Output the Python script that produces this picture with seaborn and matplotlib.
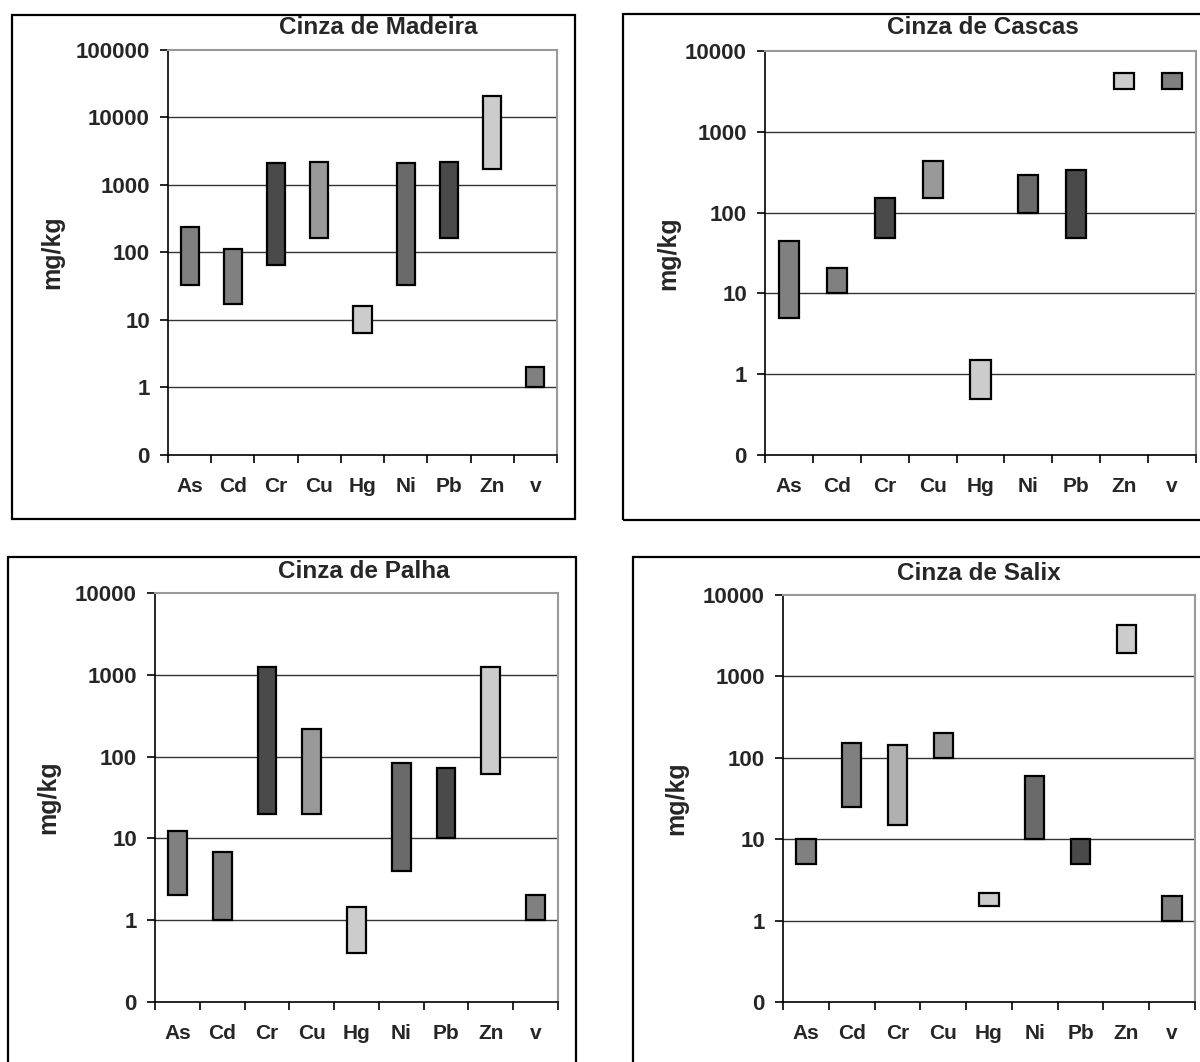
import seaborn as sns
import matplotlib.pyplot as plt
import numpy as np
from matplotlib.patches import Rectangle
from matplotlib.ticker import NullLocator

## ____ dados (mg/kg, min e max por elemento)
elements = ["As", "Cd", "Cr", "Cu", "Hg", "Ni", "Pb", "Zn", "v"]

madeira_lo = [33, 17, 65, 165, 6.4, 33, 165, 1750, 1]
madeira_hi = [235, 112, 2100, 2200, 16, 2100, 2200, 20500, 2]

cascas_lo = [4.9, 10, 49, 150, 0.49, 100, 49, 3350, 3350]
cascas_hi = [44, 20.5, 150, 437, 1.5, 290, 335, 5400, 5400]

palha_lo = [2.05, 1, 20, 20, 0.4, 4, 10, 62, 1]
palha_hi = [12.3, 6.9, 1240, 218, 1.43, 84, 72, 1240, 2.05]

salix_lo = [5, 25, 15, 100, 1.5, 10, 5, 1950, 1]
salix_hi = [10, 150, 142, 202, 2.2, 60, 10, 4300, 2]

cores = ["#808080", "#808080", "#4a4a4a", "#999999", "#cccccc",
         "#6a6a6a", "#4a4a4a", "#cccccc", "#808080"]
cores_salix = ["#808080", "#808080", "#b0b0b0", "#999999", "#cccccc",
               "#6a6a6a", "#4a4a4a", "#cccccc", "#808080"]

sns.set_theme(style="white")
plt.rcParams['font.family'] = ['Liberation Sans', 'DejaVu Sans']
plt.rcParams['font.weight'] = 'bold'

W, H = 1200, 1062
fig = plt.figure(figsize=(W / 100, H / 100), dpi=100)

# (titulo, lo, hi, cores, ymax, [left, right, top, bottom] px, titulo xy px, ylabel x px, moldura px)
paineis = [
    ("Cinza de Madeira", madeira_lo, madeira_hi, cores, 1e5,
     (168, 557, 50, 455), (378, 28), 52, (12, 15, 575, 519)),
    ("Cinza de Cascas", cascas_lo, cascas_hi, cores, 1e4,
     (765, 1196, 51, 455), (983, 28), 668, (623, 14, 1215, 520)),
    ("Cinza de Palha", palha_lo, palha_hi, cores, 1e4,
     (155, 558, 593, 1002), (364, 571), 48, (8, 557, 576, 1075)),
    ("Cinza de Salix", salix_lo, salix_hi, cores_salix, 1e4,
     (783, 1195, 595, 1002), (979, 573), 676, (633, 557, 1215, 1075)),
]

for titulo, lo, hi, cc, ymax, (l, r, t, b), (tx, ty), lx, (fl, ft, fr, fb) in paineis:
    fig.add_artist(Rectangle((fl / W, 1 - fb / H), (fr - fl) / W, (fb - ft) / H,
                             transform=fig.transFigure, fill=False,
                             edgecolor="black", linewidth=1.6, zorder=0))
    ax = fig.add_axes([l / W, 1 - b / H, (r - l) / W, (b - t) / H])
    altura = np.array(hi) - np.array(lo)
    sns.barplot(x=elements, y=altura, bottom=lo, order=elements, color="#808080",
                errorbar=None, width=0.42, edgecolor="black", linewidth=1.6,
                ax=ax, zorder=3)
    for p, c in zip(ax.patches, cc):
        p.set_facecolor(c)
    ax.set_yscale("log")
    ax.set_ylim(0.1, ymax)
    ax.set_xlim(-0.5, 8.5)
    decadas = [10.0 ** k for k in range(-1, int(np.log10(ymax)) + 1)]
    ax.set_yticks(decadas)
    ax.set_yticklabels(["0"] + [str(int(d)) for d in decadas[1:]])
    ax.yaxis.set_minor_locator(NullLocator())
    ax.set_xticks(np.arange(-0.5, 9.0, 1.0))
    ax.set_xticklabels([])
    ax.set_xticks(range(len(elements)), minor=True)
    ax.set_xticklabels(elements, minor=True)
    ax.tick_params(axis="x", which="major", direction="out", length=6, width=1.2,
                   color="black", bottom=True)
    ax.tick_params(axis="x", which="minor", length=0, pad=16, labelsize=15)
    ax.tick_params(axis="y", which="major", direction="out", length=6, width=1.2,
                   color="black", left=True, pad=7, labelsize=16)
    for d in decadas[1:-1]:
        ax.axhline(d, color="#333333", linewidth=1.0, zorder=1)
    for s in ["top", "right"]:
        ax.spines[s].set_color("#999999")
        ax.spines[s].set_linewidth(1.5)
    for s in ["left", "bottom"]:
        ax.spines[s].set_color("black")
        ax.spines[s].set_linewidth(1.2)
    ax.set_xlabel("")
    ax.set_ylabel("")
    fig.text(tx / W, 1 - ty / H, titulo, ha="center", va="center",
             fontsize=17.5, fontweight="bold")
    fig.text(lx / W, 1 - (t + b) / 2 / H, "mg/kg", ha="center", va="center",
             rotation=90, fontsize=18, fontweight="bold")

plt.savefig("out.png", dpi=100)
